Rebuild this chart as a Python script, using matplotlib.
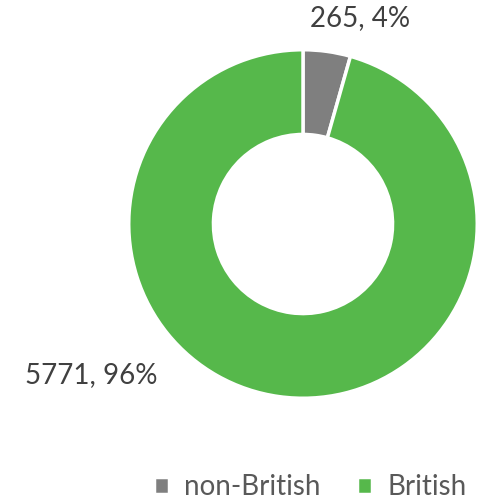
import matplotlib
matplotlib.use('Agg')
from matplotlib import pyplot as plt

categories = ['non-British', 'British']
values = [265, 5771]
percents = [4, 96]
colors = ['#7f7f7f', '#56b84b']

plt.rcParams['font.family'] = ['Lato', 'DejaVu Sans']

W, H = 479, 499
fig = plt.figure(figsize=(W / 100, H / 100), dpi=100)

# donut: centre (303, 224) px, radius 175 px
cx, cy, r = 303, 224, 176
ax = fig.add_axes([(cx - r) / W, (H - cy - r) / H, 2 * r / W, 2 * r / H])
wedges, _ = ax.pie(values, colors=colors, startangle=90, counterclock=False,
                   radius=1.0, wedgeprops=dict(width=0.486, edgecolor='white', linewidth=2.5))
ax.set_xlim(-1.01, 1.01)
ax.set_ylim(-1.01, 1.01)
ax.set_aspect('equal')
ax.axis('off')

# data labels
txt = '#404040'
fig.text(360 / W, 1 - 18 / H, f'{values[0]}, {percents[0]}%', ha='center', va='center',
         fontsize=20, color=txt)
fig.text(91 / W, 1 - 375 / H, f'{values[1]}, {percents[1]}%', ha='center', va='center',
         fontsize=20, color=txt)

leg = fig.legend(wedges, categories, loc='center', bbox_to_anchor=(0.648, 1 - 487 / H),
                 ncol=2, frameon=False, fontsize=20, handlelength=0.55, handleheight=0.55,
                 handletextpad=0.55, columnspacing=1.3, labelcolor='#595959')

fig.savefig('out.png', dpi=100)
